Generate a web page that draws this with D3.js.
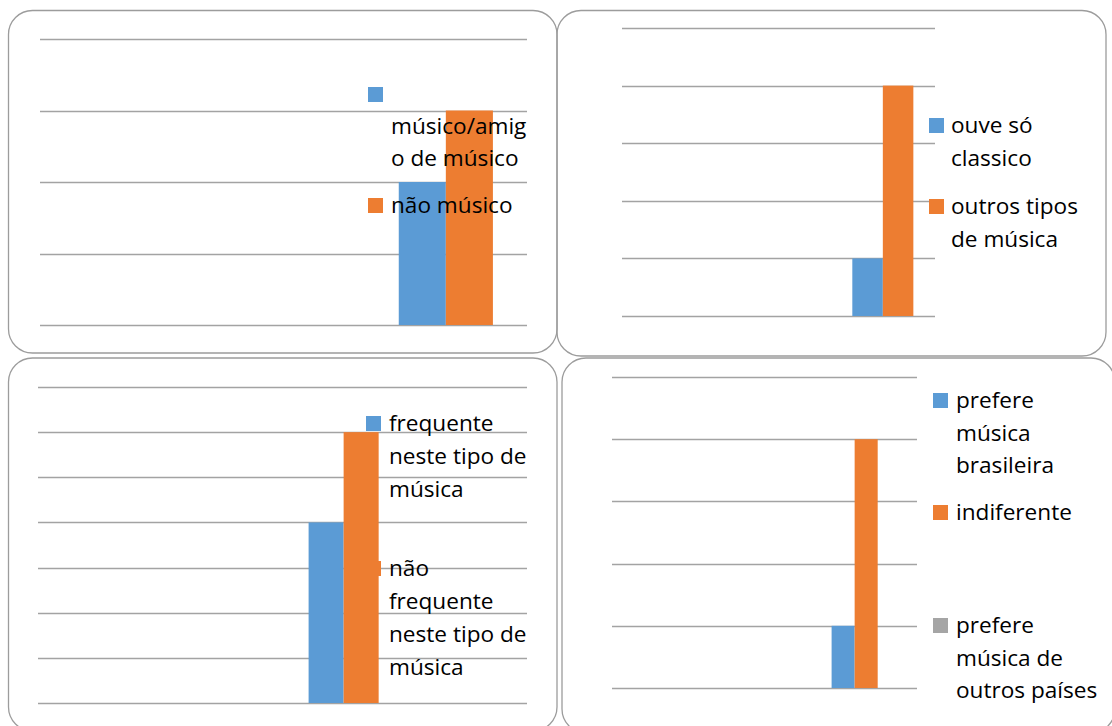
<!DOCTYPE html>
<html>
<head>
<meta charset="utf-8">
<script src="https://cdn.jsdelivr.net/npm/d3@7"></script>
<style>
  html, body { margin: 0; padding: 0; background: #fff; }
  svg { display: block; font-family: "Open Sans", sans-serif; }
</style>
</head>
<body>
<svg id="chart" width="1112" height="726"></svg>
<script>
// ---- data: músico / não músico ----
const catsMusico = ["1", "2", "3"];
const musicoAmigo = [null, null, 2];
const naoMusico = [null, null, 3];
const ticksMusico = [0, 1, 2, 3, 4];
const legendaMusico = [["", "músico/amig", "o de músico"], ["não músico"]];

// ---- data: só clássico / outros tipos ----
const catsClassico = ["1", "2", "3"];
const ouveSoClassico = [null, null, 1];
const outrosTipos = [null, null, 4];
const ticksClassico = [0, 1, 2, 3, 4, 5];
const legendaClassico = [["ouve só", "classico"], ["outros tipos", "de música"]];

// ---- data: frequência ----
const catsFrequente = ["1", "2", "3", "4"];
const frequente = [null, null, 4, null];
const naoFrequente = [null, null, 6, null];
const ticksFrequente = [0, 1, 2, 3, 4, 5, 6, 7];
const legendaFrequente = [["frequente", "neste tipo de", "música"], ["não", "frequente", "neste tipo de", "música"]];

// ---- data: preferência ----
const catsPreferencia = ["1", "2", "3"];
const prefereBrasileira = [null, null, 1];
const indiferente = [null, null, 4];
const prefereOutrosPaises = [null, null, 0];
const ticksPreferencia = [0, 1, 2, 3, 4, 5];
const legendaPreferencia = [["prefere", "música", "brasileira"], ["indiferente"], ["prefere", "música de", "outros países"]];

const azul = "#5B9BD5", laranja = "#ED7D31", cinza = "#A5A5A5";

// layout of each chart box
const panels = [
  {
    frame: [8.5, 10.5, 557, 353],
    plot: { x0: 40, x1: 527, yBase: 325, yTop: 39 },
    cats: catsMusico, ticks: ticksMusico, groupFrac: 0.58,
    series: [{ values: musicoAmigo, color: azul }, { values: naoMusico, color: laranja }],
    legend: { sx: 368, tx: 391, lh: 32, first: [102, 213], lines: legendaMusico }
  },
  {
    frame: [557, 10.5, 1106, 356],
    plot: { x0: 622, x1: 935, yBase: 316, yTop: 28 },
    cats: catsClassico, ticks: ticksClassico, groupFrac: 0.585,
    series: [{ values: ouveSoClassico, color: azul }, { values: outrosTipos, color: laranja }],
    legend: { sx: 929, tx: 951, lh: 32.5, first: [133, 214], lines: legendaClassico }
  },
  {
    frame: [8.5, 358, 557, 731],
    plot: { x0: 38, x1: 527, yBase: 703, yTop: 387 },
    cats: catsFrequente, ticks: ticksFrequente, groupFrac: 0.573,
    series: [{ values: frequente, color: azul }, { values: naoFrequente, color: laranja }],
    legend: { sx: 366, tx: 389, lh: 33, first: [431, 576], lines: legendaFrequente }
  },
  {
    frame: [562, 358, 1115, 733],
    plot: { x0: 612, x1: 917, yBase: 688, yTop: 377 },
    cats: catsPreferencia, ticks: ticksPreferencia, groupFrac: 0.68,
    series: [{ values: prefereBrasileira, color: azul }, { values: indiferente, color: laranja }, { values: prefereOutrosPaises, color: cinza }],
    legend: { sx: 933, tx: 956, lh: 32.5, first: [408, 520, 633], lines: legendaPreferencia }
  }
];

const svg = d3.select("#chart");

panels.forEach(p => {
  const g = svg.append("g");

  // rounded frame
  const [fx0, fy0, fx1, fy1] = p.frame;
  g.append("rect")
    .attr("x", fx0).attr("y", fy0)
    .attr("width", fx1 - fx0).attr("height", fy1 - fy0)
    .attr("rx", 24).attr("ry", 24)
    .attr("fill", "none")
    .attr("stroke", "#9c9c9c")
    .attr("stroke-width", 1.3);

  const x = d3.scaleBand().domain(p.cats).range([p.plot.x0, p.plot.x1]).paddingInner(0).paddingOuter(0);
  const y = d3.scaleLinear().domain([0, d3.max(p.ticks)]).range([p.plot.yBase, p.plot.yTop]);
  const groupW = x.bandwidth() * p.groupFrac;
  const xs = d3.scaleBand().domain(d3.range(p.series.length)).range([0, groupW]);
  const off = (x.bandwidth() - groupW) / 2;

  // horizontal gridlines
  g.append("g").selectAll("line").data(p.ticks).join("line")
    .attr("x1", p.plot.x0).attr("x2", p.plot.x1)
    .attr("y1", d => Math.round(y(d)) + 0.5).attr("y2", d => Math.round(y(d)) + 0.5)
    .attr("stroke", "#a3a3a3").attr("stroke-width", 1.3);

  // bars
  p.series.forEach((s, si) => {
    const pts = p.cats.map((c, i) => ({ c, v: s.values[i] })).filter(d => d.v != null && d.v > 0);
    g.append("g").selectAll("rect").data(pts).join("rect")
      .attr("x", d => x(d.c) + off + xs(si))
      .attr("width", xs.bandwidth())
      .attr("y", d => y(d.v))
      .attr("height", d => y(0) - y(d.v))
      .attr("fill", s.color);
  });

  // legend
  const L = p.legend;
  p.series.forEach((s, si) => {
    const b = L.first[si];
    g.append("rect")
      .attr("x", L.sx).attr("y", b - 15)
      .attr("width", 15).attr("height", 15)
      .attr("fill", s.color);
    const t = g.append("text")
      .attr("x", L.tx).attr("y", b)
      .attr("font-size", 22.6)
      .attr("fill", "#000");
    L.lines[si].forEach((ln, li) => {
      t.append("tspan").attr("x", L.tx).attr("y", b + li * L.lh).text(ln);
    });
  });
});
</script>
</body>
</html>
